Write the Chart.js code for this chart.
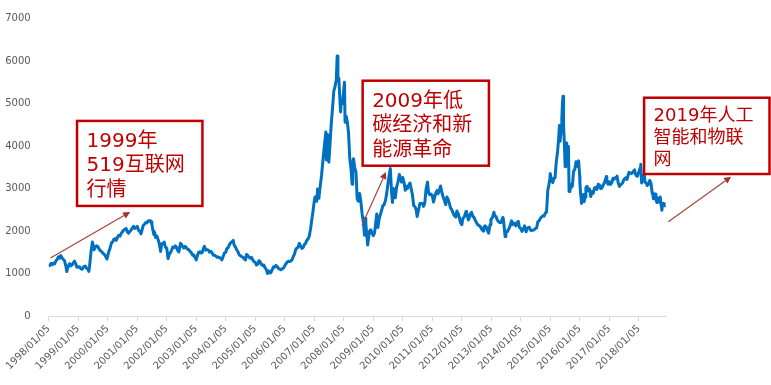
<!DOCTYPE html>
<html><head><meta charset="utf-8">
<script src="https://cdn.jsdelivr.net/npm/chart.js@4.4.0/dist/chart.umd.min.js"></script>
<style>html,body{margin:0;padding:0;background:#fff;}#wrap{width:771px;height:385px;position:relative;}</style>
</head><body><div id="wrap"><canvas id="c" width="771" height="385"></canvas></div>
<script>
// ---- data ----
const tickLabels = ['1998/01/05','1999/01/05','2000/01/05','2001/01/05','2002/01/05','2003/01/05','2004/01/05','2005/01/05','2006/01/05','2007/01/05','2008/01/05','2009/01/05','2010/01/05','2011/01/05','2012/01/05','2013/01/05','2014/01/05','2015/01/05','2016/01/05','2017/01/05','2018/01/05'];

const dates = [
'1998-01-05','1998-01-20','1998-02-05','1998-02-20','1998-03-05','1998-03-20','1998-04-05','1998-04-20','1998-05-05','1998-05-20','1998-06-03','1998-06-20','1998-07-05','1998-07-20','1998-08-05','1998-08-17','1998-09-01','1998-09-20','1998-10-05','1998-10-20','1998-11-05','1998-11-20','1998-12-05','1998-12-20',
'1999-01-05','1999-01-20','1999-02-05','1999-02-20','1999-03-05','1999-03-20','1999-04-05','1999-04-20','1999-05-05','1999-05-17','1999-05-25','1999-06-05','1999-06-15','1999-06-30','1999-07-10','1999-07-20','1999-08-05','1999-08-20','1999-09-05','1999-09-20','1999-10-05','1999-10-20','1999-11-05','1999-11-20','1999-12-05','1999-12-27',
'2000-01-05','2000-01-20','2000-02-05','2000-02-20','2000-03-05','2000-03-20','2000-04-05','2000-04-20','2000-05-05','2000-05-20','2000-06-05','2000-06-20','2000-07-05','2000-07-20','2000-08-05','2000-08-20','2000-09-05','2000-09-20','2000-10-05','2000-10-20','2000-11-05','2000-11-20','2000-12-05','2000-12-20',
'2001-01-05','2001-01-20','2001-02-05','2001-02-20','2001-03-05','2001-03-20','2001-04-05','2001-04-20','2001-05-05','2001-05-20','2001-06-05','2001-06-14','2001-06-25','2001-07-05','2001-07-20','2001-07-30','2001-08-10','2001-08-20','2001-09-05','2001-09-20','2001-10-05','2001-10-22','2001-11-05','2001-11-20','2001-12-05','2001-12-20',
'2002-01-05','2002-01-22','2002-02-05','2002-02-20','2002-03-05','2002-03-20','2002-04-05','2002-04-20','2002-05-05','2002-05-20','2002-06-05','2002-06-24','2002-07-05','2002-07-20','2002-08-05','2002-08-20','2002-09-05','2002-09-20','2002-10-05','2002-10-20','2002-11-05','2002-11-20','2002-12-05','2002-12-20',
'2003-01-06','2003-01-20','2003-02-05','2003-02-20','2003-03-05','2003-03-20','2003-04-05','2003-04-16','2003-05-05','2003-05-20','2003-06-05','2003-06-20','2003-07-05','2003-07-20','2003-08-05','2003-08-20','2003-09-05','2003-09-20','2003-10-05','2003-10-20','2003-11-05','2003-11-18','2003-12-05','2003-12-20',
'2004-01-05','2004-01-20','2004-02-05','2004-02-20','2004-03-05','2004-03-20','2004-04-07','2004-04-20','2004-05-05','2004-05-20','2004-06-05','2004-06-20','2004-07-05','2004-07-20','2004-08-05','2004-08-20','2004-09-05','2004-09-20','2004-10-05','2004-10-20','2004-11-05','2004-11-20','2004-12-05','2004-12-20',
'2005-01-05','2005-01-20','2005-02-05','2005-02-20','2005-03-05','2005-03-20','2005-04-05','2005-04-20','2005-05-05','2005-05-20','2005-06-06','2005-06-20','2005-07-05','2005-07-11','2005-07-20','2005-08-05','2005-08-20','2005-09-05','2005-09-20','2005-10-05','2005-10-20','2005-11-05','2005-11-20','2005-12-05','2005-12-20',
'2006-01-05','2006-01-20','2006-02-05','2006-02-20','2006-03-05','2006-03-20','2006-04-05','2006-04-20','2006-05-05','2006-05-20','2006-06-05','2006-06-20','2006-07-05','2006-07-20','2006-08-05','2006-08-20','2006-09-05','2006-09-20','2006-10-05','2006-10-20','2006-11-05','2006-11-20','2006-12-05','2006-12-20',
'2007-01-05','2007-01-15','2007-01-25','2007-02-05','2007-02-16','2007-02-27','2007-03-05','2007-03-20','2007-04-05','2007-04-20','2007-05-05','2007-05-29','2007-06-04','2007-06-20','2007-07-05','2007-07-20','2007-08-05','2007-08-20','2007-09-05','2007-09-20','2007-10-05','2007-10-16','2007-10-25','2007-11-05','2007-11-20','2007-11-28','2007-12-05','2007-12-20',
'2008-01-05','2008-01-14','2008-01-22','2008-02-05','2008-02-20','2008-03-05','2008-03-20','2008-04-05','2008-04-18','2008-04-25','2008-05-05','2008-05-20','2008-06-05','2008-06-20','2008-07-05','2008-07-20','2008-08-05','2008-08-20','2008-09-05','2008-09-18','2008-09-25','2008-10-05','2008-10-28','2008-11-05','2008-11-20','2008-12-05','2008-12-20',
'2009-01-05','2009-01-20','2009-02-05','2009-02-17','2009-03-03','2009-03-20','2009-04-05','2009-04-20','2009-05-05','2009-05-20','2009-06-05','2009-06-20','2009-07-05','2009-07-20','2009-08-04','2009-08-20','2009-08-31','2009-09-10','2009-09-20','2009-10-05','2009-10-20','2009-11-05','2009-11-24','2009-12-05','2009-12-20',
'2010-01-05','2010-01-20','2010-02-05','2010-02-20','2010-03-05','2010-03-20','2010-04-05','2010-04-20','2010-05-05','2010-05-20','2010-06-05','2010-06-20','2010-07-02','2010-07-20','2010-08-05','2010-08-20','2010-09-05','2010-09-20','2010-10-05','2010-10-20','2010-11-08','2010-11-20','2010-12-05','2010-12-20',
'2011-01-05','2011-01-20','2011-02-05','2011-02-20','2011-03-05','2011-03-20','2011-04-05','2011-04-18','2011-05-05','2011-05-20','2011-06-05','2011-06-20','2011-07-05','2011-07-20','2011-08-05','2011-08-20','2011-09-05','2011-09-20','2011-10-05','2011-10-24','2011-11-05','2011-11-20','2011-12-05','2011-12-20',
'2012-01-06','2012-01-20','2012-02-05','2012-02-27','2012-03-05','2012-03-27','2012-04-05','2012-04-20','2012-05-05','2012-05-20','2012-06-05','2012-06-20','2012-07-05','2012-07-20','2012-08-05','2012-08-20','2012-09-05','2012-09-26','2012-10-05','2012-10-20','2012-11-05','2012-11-27','2012-12-04','2012-12-20','2012-12-31',
'2013-01-05','2013-01-20','2013-02-06','2013-02-20','2013-03-05','2013-03-20','2013-04-05','2013-04-20','2013-05-05','2013-05-29','2013-06-05','2013-06-25','2013-07-05','2013-07-20','2013-08-05','2013-08-20','2013-09-12','2013-09-25','2013-10-05','2013-10-20','2013-11-05','2013-11-20','2013-12-05','2013-12-20',
'2014-01-05','2014-01-20','2014-02-05','2014-02-20','2014-03-05','2014-03-12','2014-03-25','2014-04-05','2014-04-20','2014-05-05','2014-05-20','2014-06-05','2014-06-20','2014-07-05','2014-07-20','2014-08-05','2014-08-20','2014-09-05','2014-09-20','2014-10-05','2014-10-20','2014-11-05','2014-11-20','2014-12-05','2014-12-20','2014-12-31',
'2015-01-05','2015-01-20','2015-02-05','2015-02-20','2015-03-05','2015-03-20','2015-04-05','2015-04-20','2015-04-28','2015-05-07','2015-05-20','2015-05-28','2015-06-05','2015-06-12','2015-06-19','2015-06-29','2015-07-08','2015-07-15','2015-07-24','2015-07-28','2015-08-05','2015-08-18','2015-08-26','2015-09-05','2015-09-15','2015-09-25','2015-10-05','2015-10-20','2015-11-05','2015-11-20','2015-12-05','2015-12-22',
'2016-01-04','2016-01-07','2016-01-15','2016-01-27','2016-02-05','2016-02-20','2016-02-29','2016-03-10','2016-03-21','2016-04-05','2016-04-20','2016-05-05','2016-05-20','2016-06-05','2016-06-20','2016-07-05','2016-07-20','2016-08-05','2016-08-20','2016-09-05','2016-09-20','2016-10-05','2016-10-20','2016-11-05','2016-11-29','2016-12-05','2016-12-20',
'2017-01-05','2017-01-16','2017-01-25','2017-02-05','2017-02-20','2017-03-05','2017-03-20','2017-04-05','2017-04-11','2017-04-25','2017-05-11','2017-05-20','2017-06-05','2017-06-20','2017-07-05','2017-07-20','2017-08-05','2017-08-11','2017-08-20','2017-09-05','2017-09-20','2017-10-05','2017-10-20','2017-11-13','2017-11-23','2017-12-05','2017-12-20',
'2018-01-05','2018-01-20','2018-01-29','2018-02-09','2018-02-20','2018-03-05','2018-03-13','2018-03-23','2018-04-05','2018-04-20','2018-05-05','2018-05-20','2018-06-05','2018-06-19','2018-06-29','2018-07-05','2018-07-20','2018-07-27','2018-08-05','2018-08-17','2018-08-28','2018-09-05','2018-09-14','2018-09-27','2018-10-11','2018-10-18','2018-10-25','2018-11-05','2018-11-20','2018-11-30','2018-12-04'
];

const values = [
1220,1190,1240,1210,1245,1230,1300,1330,1390,1360,1420,1370,1330,1300,1180,1045,1150,1230,1180,1200,1250,1290,1230,1150,
1150,1160,1120,1100,1130,1170,1170,1120,1110,1050,1150,1370,1550,1740,1660,1560,1620,1650,1640,1580,1540,1520,1480,1460,1420,1340,
1410,1520,1600,1720,1740,1800,1820,1780,1850,1900,1880,1940,1980,2020,2040,2060,1980,1950,1990,2020,2070,2110,2060,2080,
2110,2020,2000,1930,2020,2130,2160,2200,2190,2240,2230,2245,2220,2160,2000,1920,1960,1850,1880,1800,1700,1520,1700,1700,1740,1620,
1600,1350,1450,1490,1540,1620,1610,1650,1620,1540,1510,1710,1690,1640,1600,1640,1610,1570,1560,1520,1490,1430,1440,1380,
1320,1420,1500,1510,1480,1490,1590,1640,1550,1560,1550,1500,1520,1490,1430,1430,1410,1380,1390,1370,1360,1320,1400,1480,
1500,1590,1610,1680,1720,1740,1780,1660,1620,1560,1510,1440,1420,1400,1380,1350,1320,1450,1420,1380,1360,1380,1320,1280,
1260,1200,1220,1300,1280,1220,1190,1200,1140,1100,1000,1060,1050,1010,1030,1100,1160,1150,1190,1160,1120,1100,1090,1110,1130,
1180,1230,1270,1290,1280,1290,1320,1400,1450,1560,1600,1620,1710,1650,1590,1610,1680,1710,1780,1810,1880,2040,2250,2450,
2700,2800,2750,2700,2990,2770,2800,3050,3300,3600,3900,4330,3670,4270,3620,4060,4550,4900,5300,5400,5550,6120,5560,5600,5050,4800,5050,5000,
5300,5500,4560,4700,4550,4300,3700,3450,3100,3600,3700,3500,3380,2750,2700,2880,2680,2400,2200,1900,2300,2170,1670,1800,2000,2030,1950,
1890,1950,2200,2400,2080,2300,2400,2500,2600,2620,2720,2880,3100,3300,3470,2900,2670,3000,2960,2780,3030,3140,3330,3250,3150,
3260,3150,2960,3050,3000,3080,3130,2990,2850,2600,2570,2500,2340,2500,2650,2650,2650,2580,2660,2980,3150,2900,2850,2870,
2840,2680,2800,2900,2950,2880,2970,3060,2900,2800,2720,2620,2800,2750,2650,2540,2500,2420,2360,2330,2470,2420,2330,2200,
2150,2300,2330,2460,2440,2260,2300,2400,2440,2350,2320,2250,2200,2150,2130,2110,2050,2000,2090,2120,2090,1980,1950,2150,2270,
2280,2320,2440,2350,2340,2260,2220,2200,2200,2320,2260,1870,2000,1980,2030,2090,2240,2150,2190,2180,2120,2200,2230,2080,
2060,1990,2040,2120,2050,1980,2060,2080,2090,2020,2010,2020,2030,2060,2070,2220,2240,2300,2330,2360,2350,2420,2450,2950,3100,3230,
3350,3180,3140,3250,3250,3620,3860,4200,4480,4110,4400,4620,5020,5170,4480,4050,3510,3800,4070,3660,3700,3990,2930,3080,3000,3100,3050,3400,3450,3630,3520,3650,
3300,3120,2900,2650,2780,2860,2690,2800,3020,3050,2950,2990,2810,2930,2890,3010,3030,2980,3100,3080,3000,3010,3080,3130,3280,3200,3100,
3160,3100,3150,3140,3240,3220,3250,3270,3290,3130,3050,3090,3100,3140,3210,3240,3260,3210,3270,3380,3360,3350,3380,3440,3350,3300,3290,
3390,3480,3570,3130,3200,3260,3330,3150,3130,3070,3100,3190,3120,2900,2840,2760,2830,2870,2740,2670,2780,2700,2680,2800,2580,2490,2600,2650,2640,2590,2660
];

// ---- annotations (anchored in data space: decimal year, index value) ----
const notes = [
  {lines:['1999年','519互联网','行情'], box:[1998.96,4590,2003.21,2590], arrow:[1998.06,1365,2000.76,2447], font:20, first:26, lh:24.5},
  {lines:['2009年低','碳经济和新','能源革命'], box:[2008.64,5536,2012.92,3536], arrow:[2008.62,2141,2009.43,3388], font:20, first:26, lh:24.5},
  {lines:['2019年人工','智能和物联','网'], box:[2018.18,5136,2022.43,3341], arrow:[2019.0,2219,2021.13,3278], font:18, first:23.5, lh:22}
];

// ---- helpers ----
const T0 = Date.UTC(1998,0,5);
function dayOf(s){ const p = s.split(/[-\/]/).map(Number); return (Date.UTC(p[0],p[1]-1,p[2]) - T0)/86400000; }
const tickDays = tickLabels.map(dayOf);
const points = dates.map((d,i)=>({x:dayOf(d), y:values[i]}));
const lastDay = dayOf(dates[dates.length-1]);
const yr2day = y => (y-1998)*365.25;

const notePlugin = {
  id:'notes',
  afterDraw(chart){
    const ctx = chart.ctx, xs = chart.scales.x, ys = chart.scales.y;
    ctx.save();
    notes.forEach(n=>{
      const ax0 = xs.getPixelForValue(yr2day(n.arrow[0])), ay0 = ys.getPixelForValue(n.arrow[1]);
      const ax1 = xs.getPixelForValue(yr2day(n.arrow[2])), ay1 = ys.getPixelForValue(n.arrow[3]);
      const ang = Math.atan2(ay1-ay0, ax1-ax0);
      const hl = 7, hw = 3.5;
      const bx = ax1 - hl*Math.cos(ang), by = ay1 - hl*Math.sin(ang);
      ctx.strokeStyle = '#A8433B'; ctx.lineWidth = 1.2;
      ctx.beginPath(); ctx.moveTo(ax0,ay0); ctx.lineTo(bx,by); ctx.stroke();
      ctx.fillStyle = '#A0342C';
      ctx.beginPath();
      ctx.moveTo(ax1,ay1);
      ctx.lineTo(bx + hw*Math.sin(ang), by - hw*Math.cos(ang));
      ctx.lineTo(bx - hw*Math.sin(ang), by + hw*Math.cos(ang));
      ctx.closePath(); ctx.fill();
      const x0 = xs.getPixelForValue(yr2day(n.box[0])), y0 = ys.getPixelForValue(n.box[1]);
      const x1 = xs.getPixelForValue(yr2day(n.box[2])), y1 = ys.getPixelForValue(n.box[3]);
      ctx.fillStyle = '#FFFFFF';
      ctx.fillRect(x0,y0,x1-x0,y1-y0);
      ctx.strokeStyle = '#C00000'; ctx.lineWidth = 2.5;
      ctx.strokeRect(x0,y0,x1-x0,y1-y0);
      ctx.fillStyle = '#C00000';
      ctx.font = n.font + 'px "DejaVu Sans", "Noto Sans CJK SC", sans-serif';
      ctx.textAlign = 'left'; ctx.textBaseline = 'alphabetic';
      n.lines.forEach((t,i)=> ctx.fillText(t, x0 + 9.5, y0 + n.first + i*n.lh));
    });
    ctx.restore();
  }
};

const tickFont = {family:'"DejaVu Sans", sans-serif', size:10};

new Chart(document.getElementById('c'), {
  type:'line',
  data:{datasets:[{data:points, borderColor:'#0070C0', borderWidth:3, pointRadius:0, tension:0, borderJoinStyle:'round', fill:false}]},
  options:{
    responsive:false, animation:false, devicePixelRatio:1,
    layout:{padding:{left:0, right:105.3, top:18.5, bottom:0}},
    plugins:{legend:{display:false}, tooltip:{enabled:false}},
    scales:{
      x:{
        type:'linear', min:0, max:lastDay,
        grid:{drawOnChartArea:false, drawTicks:true, tickLength:5, color:'#D9D9D9'},
        border:{display:true, color:'#D9D9D9', width:1},
        ticks:{autoSkip:false, minRotation:45, maxRotation:45, color:'#595959', font:tickFont, padding:2,
               callback:(v,i)=>tickLabels[i]},
        afterBuildTicks:s=>{ s.ticks = tickDays.map(v=>({value:v})); },
        afterFit:s=>{ s.height = 69; s.paddingLeft = 0; s.paddingRight = 0; }
      },
      y:{
        min:0, max:7000,
        ticks:{stepSize:1000, color:'#595959', font:tickFont, padding:10, callback:v=>String(v)},
        grid:{display:false}, border:{display:false},
        afterFit:s=>{ s.width = 48.7; }
      }
    }
  },
  plugins:[notePlugin]
});
</script></body></html>
